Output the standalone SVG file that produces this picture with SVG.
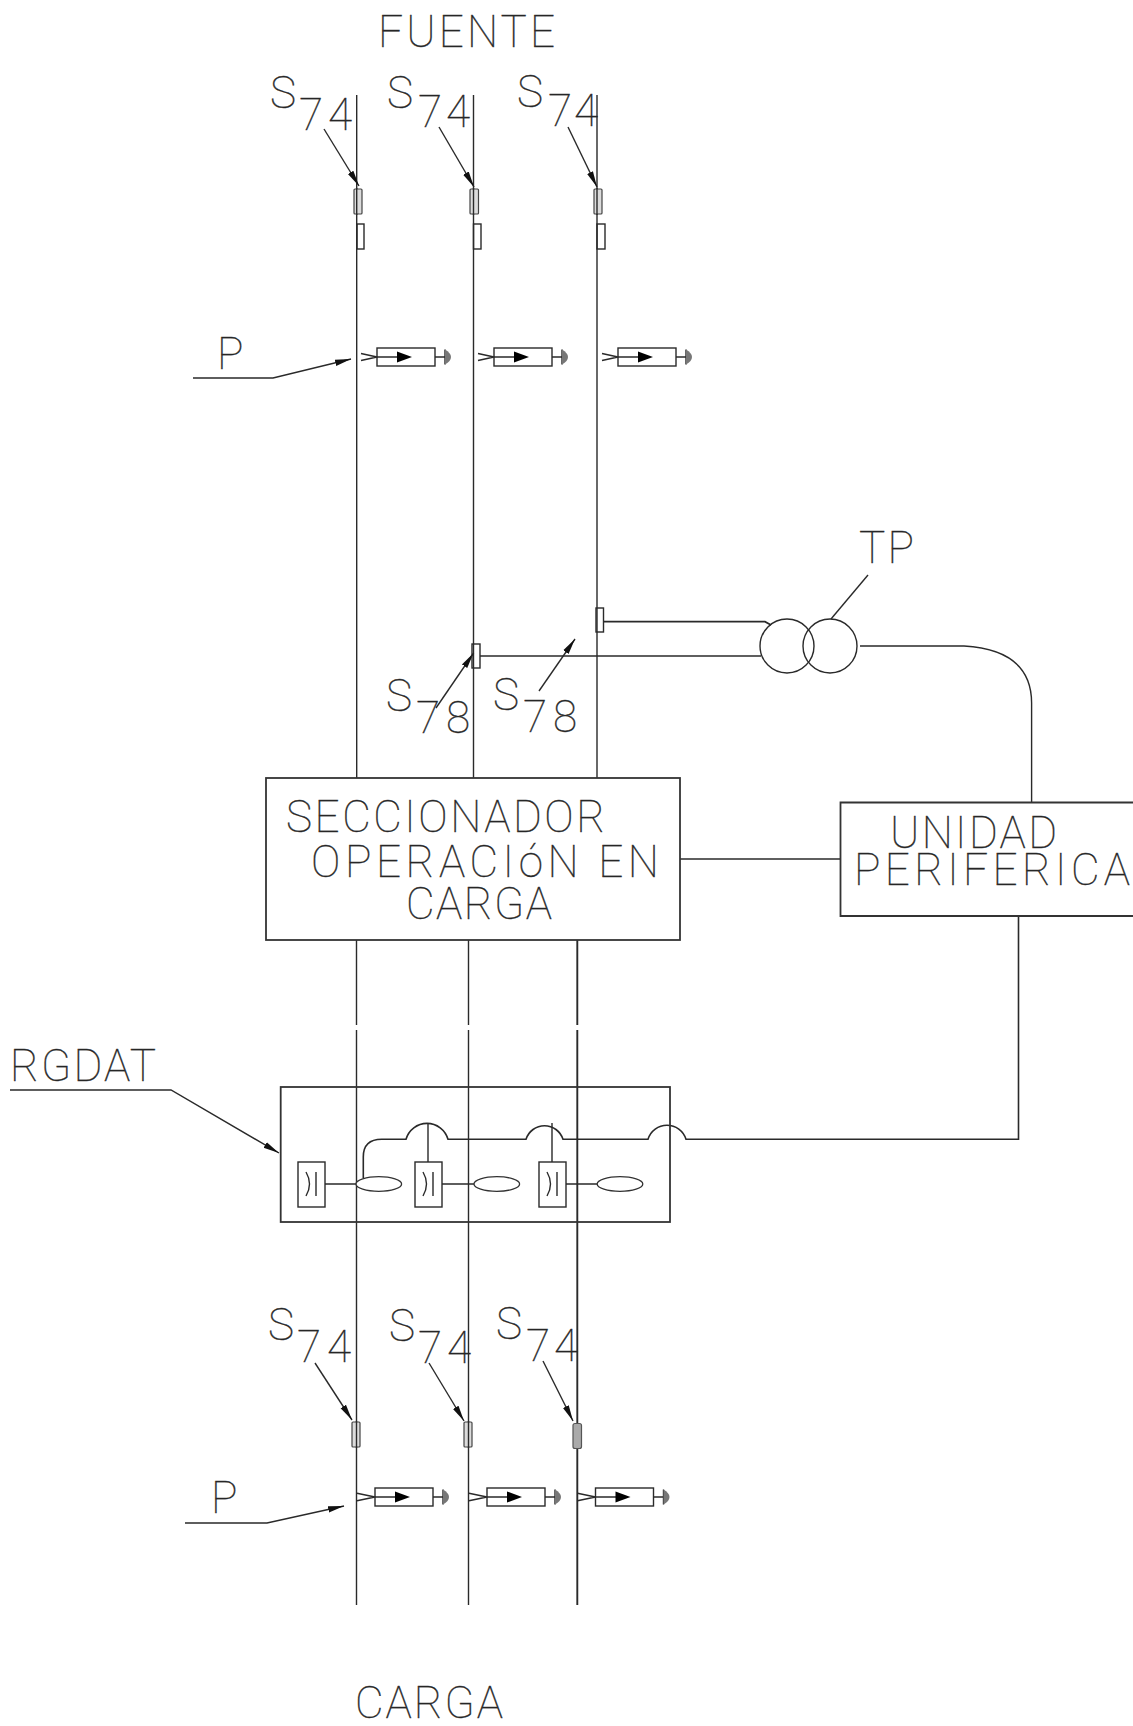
<svg xmlns="http://www.w3.org/2000/svg" width="1133" height="1726" viewBox="0 0 1133 1726">
<style>
.l{fill:none;stroke:#2a2a2a;stroke-width:1.4}
.b{fill:none;stroke:#333;stroke-width:1.8}
.g{fill:#fff;stroke:#333;stroke-width:1.3}
.f{fill:#dcdcdc;stroke:#444;stroke-width:1.2}
.a{marker-end:url(#ah)}
text{font-family:Roboto,"Liberation Sans",sans-serif;font-weight:100;font-size:44px;fill:#222;stroke:#333;stroke-width:.35}
</style>
<defs>
<marker id="ah" markerUnits="userSpaceOnUse" markerWidth="18" markerHeight="10" refX="16" refY="5" orient="auto"><path d="M0,1.800 L16,5 L0,8.200 Z" fill="#111"/></marker>
<g id="body">
<rect class="l" x="0" y="-9" width="58" height="18"/>
<path class="l" d="M0,0H24M58,0H68M68,-7.500V7.500"/>
<path d="M20,-5.500L35,0L20,5.500Z" fill="#000"/>
<path d="M68,-7.500Q74,-4 74,0Q74,4 68,7.500Z" fill="#777"/>
</g>
<g id="pt"><use href="#body"/><path class="l" d="M-16,-3.500L0,0L-16,3.500"/></g>
<g id="pb"><use href="#body"/><path class="l" d="M-18,-3.700L0,0L-18,3.700"/></g>
<g id="cs">
<rect class="l" x="0" y="0" width="27" height="45"/>
<path class="l" d="M8,10Q15,22 8,34M18,10V34"/>
</g>
</defs>
<rect width="1133" height="1726" fill="#fff"/>

<g id="connectors">
<path class="l" d="M356.700,95V778M473.500,95V778M597,95V778"/>
<path class="l" d="M356.500,940V1025M356.500,1030V1605M468.500,940V1025M468.500,1030V1605"/>
<path class="l" style="stroke-width:1.900" d="M577.300,940V1025M577.300,1030V1605"/>
<path class="l a" d="M324,129L359,186"/>
<path class="l a" d="M439,127L474,187"/>
<path class="l a" d="M568,127L597,187"/>
<path class="l a" d="M315,1363L352,1420"/>
<path class="l a" d="M429,1363L464,1421"/>
<path class="l a" d="M543,1361L573,1421"/>
<path class="l a" d="M193,378H273L351,359"/>
<path class="l a" d="M185,1523H267L344,1506"/>
<path class="l a" d="M10,1090H171L279,1153"/>
<path class="l a" d="M436,708L473.600,653"/>
<path class="l a" d="M539,691L575,639"/>
<path class="l" style="stroke-width:1.700" d="M603,621.700H765L771,625"/>
<path class="l" d="M480,656H761"/>
<path class="l" d="M868,575L831,619"/>
<path class="l" d="M860,646H964Q1031.600,650 1031.600,703V803"/>
<path class="l" d="M680,859H841"/>
<path class="l" style="stroke-width:1.600" d="M363.300,1178V1157Q363.300,1139.300 381.700,1139.300H406A21.800,21.800 0 0 1 448,1139.300H526A19.400,19.400 0 0 1 563,1139.300H648A19.900,19.900 0 0 1 686,1139.300H1018.500V916"/>
<path class="l" d="M428,1123V1162M552,1123V1162"/>
<path class="l" d="M325,1184H357M442,1184H474M566,1184H597"/>
</g>

<g id="sensors-top">
<rect class="f" x="354" y="189" width="8" height="25" rx="1"/>
<rect class="f" x="470" y="189" width="8.500" height="25" rx="1"/>
<rect class="f" x="594" y="189" width="8" height="25" rx="1"/>
<rect class="l" x="357" y="224" width="7" height="25"/>
<rect class="l" x="473.500" y="224" width="7.500" height="25"/>
<rect class="l" x="597" y="224" width="8" height="25"/>
<path class="l" d="M356.700,188V215M473.500,188V215M597,188V215"/>
</g>
<g id="sensors-bottom">
<rect class="f" x="352" y="1422" width="8" height="25" rx="1"/>
<rect class="f" x="464" y="1422" width="8" height="25" rx="1"/>
<rect x="573" y="1423.500" width="8.500" height="25" rx="2" fill="#aaa" stroke="#555" stroke-width="1.200"/>
<path class="l" d="M356.500,1421V1448M468.500,1421V1448"/>
</g>
<g id="sensors-s78">
<rect class="l" x="596" y="608" width="7.500" height="24"/>
<rect class="l" x="472" y="644" width="8" height="24"/>
</g>

<g id="p-top">
<use href="#pt" x="377" y="357"/>
<use href="#pt" x="494" y="357"/>
<use href="#pt" x="618" y="357"/>
</g>
<g id="p-bottom">
<use href="#pb" x="375" y="1497"/>
<use href="#pb" x="487" y="1497"/>
<use href="#pb" x="595.500" y="1497"/>
</g>

<g id="tp">
<circle class="l" cx="787" cy="646" r="27"/>
<circle class="l" cx="830" cy="646" r="27"/>
<text x="859" y="563" textLength="55">TP</text>
</g>

<g id="seccionador">
<rect class="b" x="266" y="778" width="414" height="162"/>
<text x="286" y="832" textLength="319">SECCIONADOR</text>
<text x="311" y="877" textLength="348">OPERACIóN EN</text>
<text x="406" y="919" textLength="146">CARGA</text>
</g>

<g id="unidad">
<path class="b" d="M1133,802.500H840.500V916H1133"/>
<text x="890" y="848" textLength="167">UNIDAD</text>
<text x="854" y="885" textLength="276">PERIFERICA</text>
</g>

<g id="rgdat">
<rect class="b" x="280.700" y="1087" width="389.300" height="135"/>
<use href="#cs" x="298" y="1162"/>
<use href="#cs" x="415" y="1162"/>
<use href="#cs" x="539" y="1162"/>
<ellipse class="g" cx="378.800" cy="1184" rx="22.800" ry="7.300"/>
<ellipse class="g" cx="496.800" cy="1184" rx="22.800" ry="7.300"/>
<ellipse class="g" cx="620" cy="1184" rx="22.800" ry="7.300"/>
<text x="10" y="1081" textLength="146">RGDAT</text>
</g>

<g id="labels">
<text x="378" y="47" textLength="177">FUENTE</text>
<text x="355" y="1718" textLength="148">CARGA</text>
<text x="217" y="369" textLength="28">P</text>
<text x="211" y="1513" textLength="26">P</text>
<text x="270" y="108" textLength="25">S</text><text x="299" y="130" textLength="53">74</text>
<text x="387" y="108" textLength="25">S</text><text x="418" y="127" textLength="52">74</text>
<text x="517" y="107" textLength="25">S</text><text x="548" y="126" textLength="50">74</text>
<text x="268" y="1340" textLength="27">S</text><text x="297" y="1362" textLength="54">74</text>
<text x="389" y="1341" textLength="26">S</text><text x="418" y="1363" textLength="53">74</text>
<text x="496" y="1339" textLength="27">S</text><text x="526" y="1361" textLength="52">74</text>
<text x="386" y="711" textLength="26">S</text><text x="416" y="733" textLength="54">78</text>
<text x="493" y="710" textLength="27">S</text><text x="523" y="732" textLength="54">78</text>
</g>
</svg>
